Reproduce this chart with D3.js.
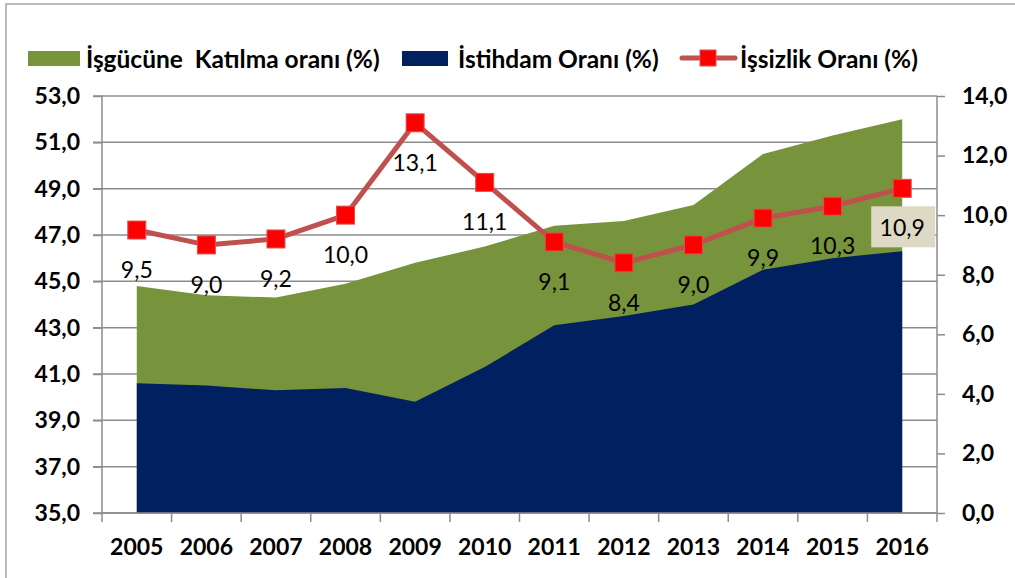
<!DOCTYPE html>
<html>
<head>
<meta charset="utf-8">
<script src="https://cdn.jsdelivr.net/npm/d3@7"></script>
<style>
  body { margin: 0; background: #fff; }
  svg { display: block; font-family: Lato, "Open Sans", sans-serif; }
</style>
</head>
<body>
<div id="chart"></div>
<script>
var years = ["2005", "2006", "2007", "2008", "2009", "2010", "2011", "2012", "2013", "2014", "2015", "2016"];
var katilma = [44.8, 44.4, 44.3, 44.9, 45.8, 46.5, 47.4, 47.6, 48.3, 50.5, 51.3, 52.0];
var istihdam = [40.6, 40.5, 40.3, 40.4, 39.8, 41.3, 43.1, 43.5, 44.0, 45.5, 46.0, 46.3];
var issizlik = [9.5, 9.0, 9.2, 10.0, 13.1, 11.1, 9.1, 8.4, 9.0, 9.9, 10.3, 10.9];
var leftTicks = [35, 37, 39, 41, 43, 45, 47, 49, 51, 53];
var rightTicks = [0, 2, 4, 6, 8, 10, 12, 14];

var W = 1015, H = 578;
var margin = { left: 102, right: 937, top: 96, bottom: 513 };

var svg = d3.select("#chart").append("svg")
  .attr("width", W)
  .attr("height", H);

// frame
svg.append("path")
  .attr("d", "M6,578 L6,4 L1015,4")
  .attr("fill", "none")
  .attr("stroke", "#a6a6a6")
  .attr("stroke-width", 1.5);

var x = d3.scaleBand().domain(years).range([margin.left, margin.right]).padding(0);
var cx = function(d, i) { return x(years[i]) + x.bandwidth() / 2; };
var yL = d3.scaleLinear().domain([35, 53]).range([margin.bottom, margin.top]);
var yR = d3.scaleLinear().domain([0, 14]).range([margin.bottom, margin.top]);

var fmt = function(v) { return d3.format(".1f")(v).replace(".", ","); };

// gridlines
svg.append("g")
  .selectAll("line")
  .data(leftTicks)
  .enter().append("line")
  .attr("x1", margin.left - 9)
  .attr("x2", margin.right)
  .attr("y1", function(d) { return yL(d); })
  .attr("y2", function(d) { return yL(d); })
  .attr("stroke", "#8c8c8c")
  .attr("stroke-width", 1.5);

// areas
var area = function(vals) {
  return d3.area()
    .x(function(d, i) { return cx(d, i); })
    .y0(margin.bottom)
    .y1(function(d) { return yL(d); })(vals);
};

svg.append("path")
  .attr("d", area(katilma))
  .attr("fill", "#77933c");

svg.append("path")
  .attr("d", area(istihdam))
  .attr("fill", "#002060");

// left axis
var leftAxis = svg.append("g")
  .attr("transform", "translate(" + margin.left + ",0)")
  .call(d3.axisLeft(yL).tickValues(leftTicks).tickSize(9).tickPadding(13).tickFormat(fmt));

// right axis
var rightAxis = svg.append("g")
  .attr("transform", "translate(" + margin.right + ",0)")
  .call(d3.axisRight(yR).tickValues(rightTicks).tickSize(8).tickPadding(17).tickFormat(fmt));

// bottom axis
var bottomAxis = svg.append("g")
  .attr("transform", "translate(0," + margin.bottom + ")")
  .call(d3.axisBottom(x).tickSize(0).tickPadding(26));

svg.append("g")
  .selectAll("line")
  .data(years.concat(["end"]))
  .enter().append("line")
  .attr("x1", function(d, i) { return margin.left + i * x.bandwidth(); })
  .attr("x2", function(d, i) { return margin.left + i * x.bandwidth(); })
  .attr("y1", margin.bottom)
  .attr("y2", margin.bottom + 9)
  .attr("stroke", "#8c8c8c")
  .attr("stroke-width", 1.5);

[leftAxis, rightAxis, bottomAxis].forEach(function(g) {
  g.select(".domain").attr("stroke", "#8c8c8c").attr("stroke-width", 1.5);
  g.selectAll(".tick line").attr("stroke", "#8c8c8c").attr("stroke-width", 1.5);
  g.selectAll(".tick text")
    .attr("fill", "#000")
    .style("font-size", "23px")
    .style("font-weight", "bold")
    .style("font-family", "Lato, sans-serif");
});
leftAxis.select(".domain").attr("d", "M0," + margin.top + "V" + margin.bottom);
rightAxis.select(".domain").attr("d", "M0," + margin.top + "V" + margin.bottom);
bottomAxis.select(".domain").attr("d", "M" + margin.left + ",0H" + margin.right);

// unemployment line
var line = d3.line()
  .x(function(d, i) { return cx(d, i); })
  .y(function(d) { return yR(d); });

svg.append("path")
  .attr("d", line(issizlik))
  .attr("fill", "none")
  .attr("stroke", "#c0504d")
  .attr("stroke-width", 5)
  .attr("stroke-linejoin", "round");

svg.append("g")
  .selectAll("rect")
  .data(issizlik)
  .enter().append("rect")
  .attr("x", function(d, i) { return cx(d, i) - 9; })
  .attr("y", function(d) { return yR(d) - 9; })
  .attr("width", 18)
  .attr("height", 18)
  .attr("fill", "#ff0000")
  .attr("stroke", "#d9534f")
  .attr("stroke-width", 1);

// data labels
var last = issizlik.length - 1;
svg.append("rect")
  .attr("x", cx(issizlik[last], last) - 31)
  .attr("y", yR(issizlik[last]) + 18)
  .attr("width", 64)
  .attr("height", 41)
  .attr("fill", "#ddd9c4");

svg.append("g")
  .selectAll("text")
  .data(issizlik)
  .enter().append("text")
  .attr("x", function(d, i) { return cx(d, i); })
  .attr("y", function(d) { return yR(d) + 39; })
  .attr("text-anchor", "middle")
  .attr("dominant-baseline", "central")
  .style("font-size", "23px")
  .attr("fill", "#000")
  .text(fmt);

// legend
var legend = svg.append("g").style("font-size", "24.5px").style("font-weight", "bold");

legend.append("rect").attr("x", 28).attr("y", 51).attr("width", 52).attr("height", 15).attr("fill", "#77933c");
legend.append("text").attr("x", 86).attr("y", 58).attr("dominant-baseline", "central")
  .attr("xml:space", "preserve").text("İşgücüne  Katılma oranı (%)");

legend.append("rect").attr("x", 402).attr("y", 51).attr("width", 46).attr("height", 15).attr("fill", "#002060");
legend.append("text").attr("x", 458).attr("y", 58).attr("dominant-baseline", "central")
  .text("İstihdam Oranı (%)");

legend.append("line").attr("x1", 682).attr("x2", 735).attr("y1", 58).attr("y2", 58)
  .attr("stroke", "#c0504d").attr("stroke-width", 5).attr("stroke-linecap", "round");
legend.append("rect").attr("x", 700).attr("y", 50).attr("width", 16).attr("height", 16)
  .attr("fill", "#ff0000").attr("stroke", "#d9534f");
legend.append("text").attr("x", 740).attr("y", 58).attr("dominant-baseline", "central")
  .text("İşsizlik Oranı (%)");
</script>
</body>
</html>
